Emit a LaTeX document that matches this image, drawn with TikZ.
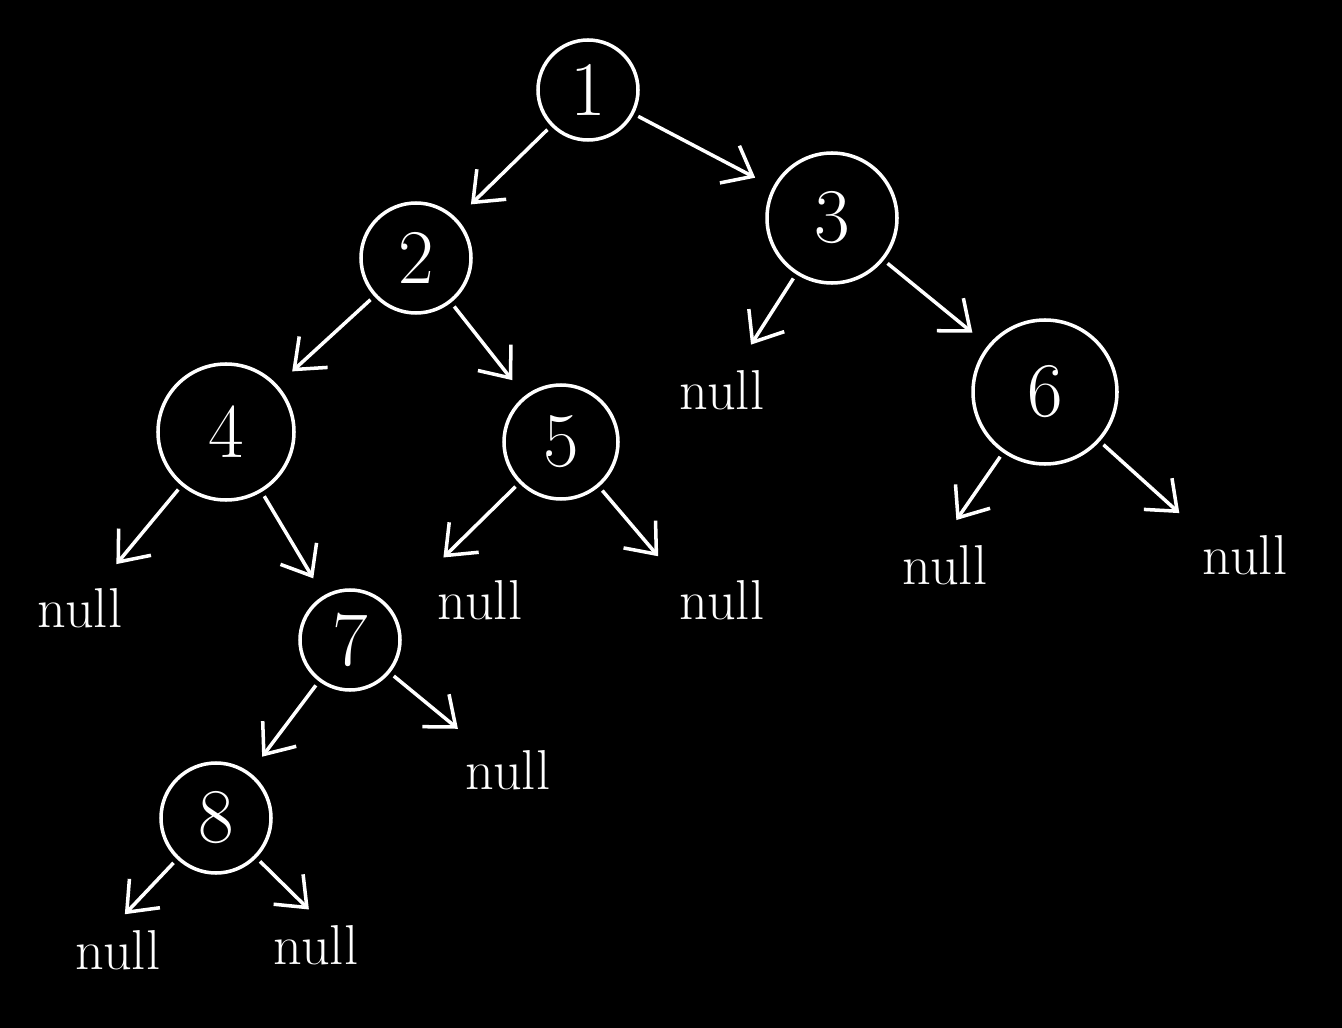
\documentclass[tikz,border=0pt]{standalone}
\usepackage{amsmath}
\usepackage{tikz}
\usetikzlibrary{arrows.meta}

\begin{document}
\begin{tikzpicture}[white,line width=1pt,
  >={Straight Barb[length=2.6mm,width=4.2mm]},
  num/.style={draw,circle,inner sep=0pt,font=\fontsize{22}{24}\selectfont},
  nil/.style={inner sep=2pt,font=\fontsize{16}{19}\selectfont},
  edge/.style={->,shorten >=2mm,shorten <=0.5mm}]
\fill[black] (0,0) rectangle (13.42,-10.28);
\useasboundingbox (0,0) rectangle (13.42,-10.28);
\node[num,minimum size=1.0cm] (n1) at (5.88,-0.90) {1};
\node[num,minimum size=1.1cm] (n2) at (4.16,-2.58) {2};
\node[num,minimum size=1.3cm] (n3) at (8.32,-2.18) {3};
\node[num,minimum size=1.36cm] (n4) at (2.26,-4.32) {4};
\node[num,minimum size=1.14cm] (n5) at (5.61,-4.42) {5};
\node[num,minimum size=1.44cm] (n6) at (10.45,-3.92) {6};
\node[num,minimum size=1.0cm] (n7) at (3.50,-6.40) {7};
\node[num,minimum size=1.1cm] (n8) at (2.16,-8.18) {8};
\node[nil] (z3) at (7.22,-3.90) {null};
\node[nil] (z4) at (0.80,-6.08) {null};
\node[nil] (z5l) at (4.80,-6.00) {null};
\node[nil] (z5r) at (7.22,-6.00) {null};
\node[nil] (z6l) at (9.45,-5.65) {null};
\node[nil] (z6r) at (12.45,-5.55) {null};
\node[nil] (z7) at (5.08,-7.70) {null};
\node[nil] (z8l) at (1.18,-9.50) {null};
\node[nil] (z8r) at (3.16,-9.45) {null};
\draw[edge] (n1) -- (n2);
\draw[edge] (n1) -- (n3);
\draw[edge] (n2) -- (n4);
\draw[edge] (n2) -- (n5);
\draw[edge] (n3) -- (z3);
\draw[edge] (n3) -- (n6);
\draw[edge] (n4) -- (z4);
\draw[edge] (n4) -- (n7);
\draw[edge] (n5) -- (z5l.north west);
\draw[edge] (n5) -- (z5r.north west);
\draw[edge] (n6) -- (z6l.north);
\draw[edge] (n6) -- (z6r.north west);
\draw[edge] (n7) -- (n8);
\draw[edge] (n7) -- (z7);
\draw[edge,shorten >=1mm] (n8) -- (z8l.north);
\draw[edge,shorten >=1mm] (n8) -- (z8r.north);
\end{tikzpicture}
\end{document}
